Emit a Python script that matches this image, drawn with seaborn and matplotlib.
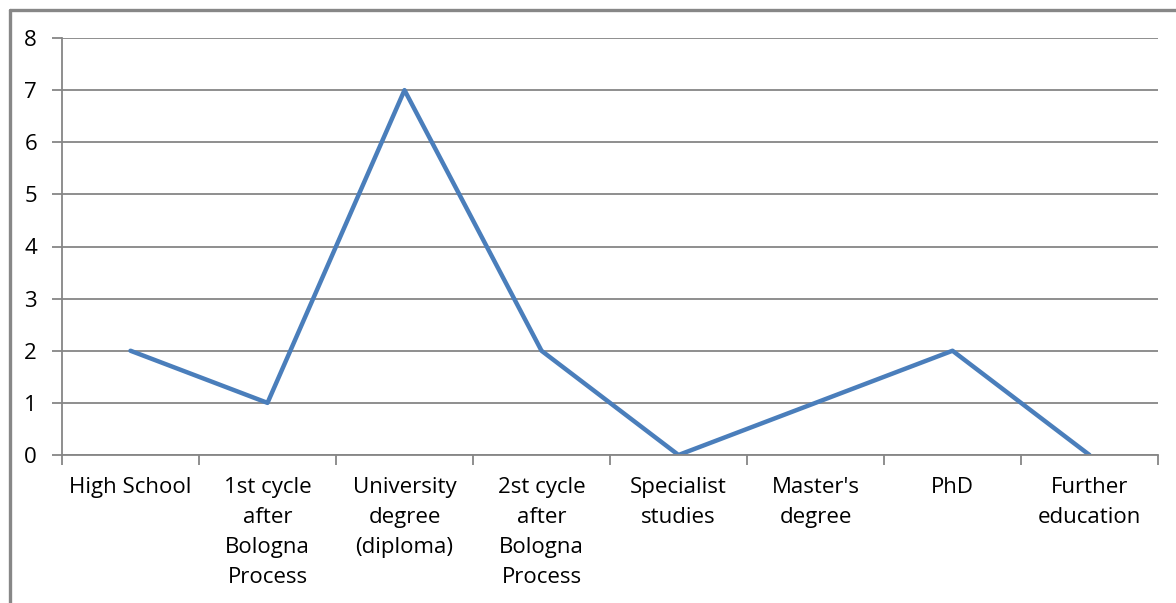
import matplotlib
matplotlib.use("Agg")
import matplotlib.pyplot as plt
from matplotlib.lines import Line2D
from matplotlib.ticker import FixedLocator
import seaborn as sns
import pandas as pd

categories = [
    "High School",
    "1st cycle\nafter\nBologna\nProcess",
    "University\ndegree\n(diploma)",
    "2st cycle\nafter\nBologna\nProcess",
    "Specialist\nstudies",
    "Master's\ndegree",
    "PhD",
    "Further\neducation",
]
counts = [2, 1, 7, 2, 0, 1, 2, 0]
y_ticks = [0, 1, 2, 3, 4, 5, 6, 7, 8]

sns.set_theme(style="white")
plt.rcParams["font.family"] = ["Open Sans", "DejaVu Sans"]

W, H = 1176, 603
fig = plt.figure(figsize=(W / 100, H / 100), dpi=100)
ax = fig.add_axes([62 / W, 1 - 455 / H, (1158 - 62) / W, (455 - 38) / H])

df = pd.DataFrame({"pos": range(len(categories)), "count": counts})
sns.lineplot(data=df, x="pos", y="count", ax=ax, color="#4A7EBB",
             linewidth=3.2, sort=False)

grid_c = "#868686"
ax.set_xlim(-0.5, len(categories) - 0.5)
ax.set_ylim(0, 8)
ax.set_yticks(y_ticks)
ax.yaxis.grid(True, color=grid_c, linewidth=1.3)
ax.set_axisbelow(True)
ax.set_xlabel("")
ax.set_ylabel("")

for s in ["top", "right"]:
    ax.spines[s].set_visible(False)
for s in ["left", "bottom"]:
    ax.spines[s].set_color(grid_c)
    ax.spines[s].set_linewidth(1.3)

ax.set_xticks(range(len(categories)))
ax.set_xticklabels(categories, fontsize=16, color="#000000", linespacing=1.55,
                   va="top")
ax.tick_params(axis="x", which="major", length=0, pad=16)
ax.xaxis.set_minor_locator(FixedLocator([i - 0.5 for i in range(len(categories) + 1)]))
ax.tick_params(axis="x", which="minor", length=7, width=1.3, color=grid_c,
               direction="out", bottom=True)
ax.tick_params(axis="y", length=7, width=1.3, color=grid_c, direction="out",
               left=True, labelsize=16, labelcolor="#000000", pad=11)

# Chart frame (top and left edges)
frame_c = "#878787"
fig.add_artist(Line2D([10 / W, 1.0], [1 - 10 / H, 1 - 10 / H],
                      transform=fig.transFigure, color=frame_c, linewidth=2.4))
fig.add_artist(Line2D([10 / W, 10 / W], [1 - 10 / H, 0.0],
                      transform=fig.transFigure, color=frame_c, linewidth=2.4))

fig.savefig("out.png", dpi=100, facecolor="white")
